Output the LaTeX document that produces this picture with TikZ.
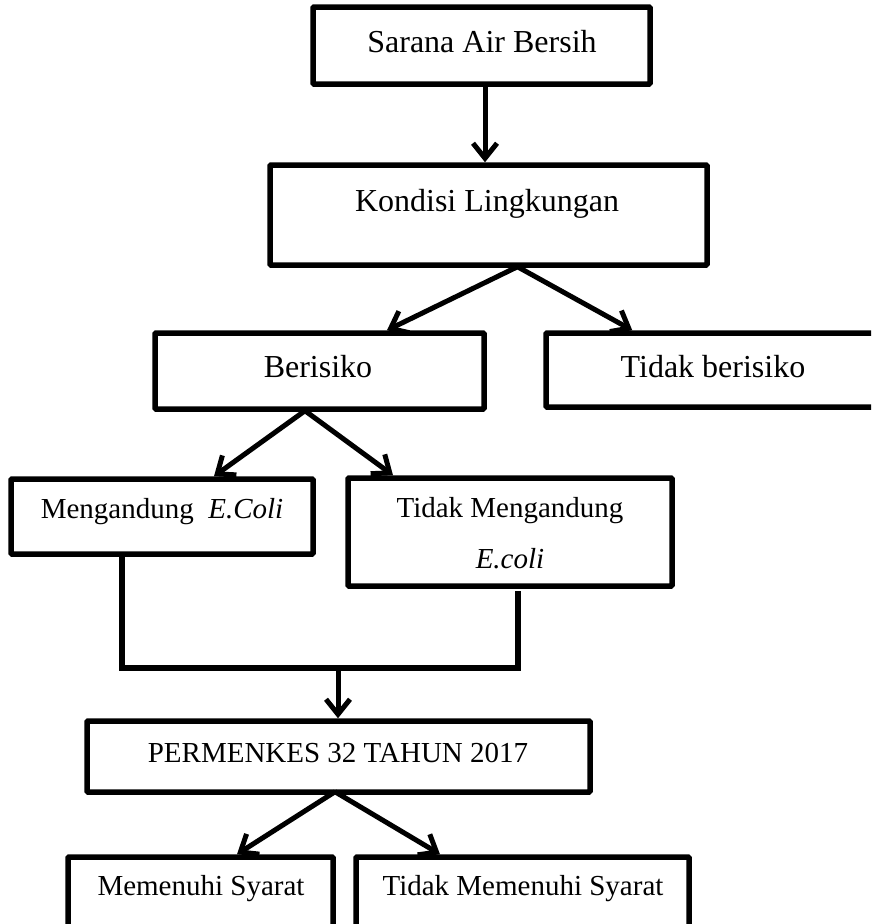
\documentclass[tikz,border=0pt]{standalone}
\usepackage{fontspec}
\setmainfont{Liberation Serif}
\usetikzlibrary{arrows.meta}
\begin{document}
\begin{tikzpicture}[x=1pt,y=-1pt,
  box/.style={draw, line width=5.5pt, inner sep=0pt, rectangle, rounded corners=1pt},
  big/.style={font=\fontsize{32}{38}\selectfont, anchor=base, inner sep=0pt},
  small/.style={font=\fontsize{29}{34}\selectfont, anchor=base, inner sep=0pt},
  arr/.style={line width=5pt, -{Straight Barb[length=15pt,width=24pt]}},
  link/.style={line width=5.5pt}]
\clip (0,0) rectangle (871,924);
\fill[white] (0,0) rectangle (871,924);
% boxes
\node[box, minimum width=337pt, minimum height=77pt] (b1) at (481.5,45.5) {};
\node[box, minimum width=437pt, minimum height=100pt] (b2) at (488.5,215) {};
\node[box, minimum width=329pt, minimum height=76pt] (b3) at (319.5,371) {};
\node[box, minimum width=354pt, minimum height=74pt] (b4) at (723,370) {};
\node[box, minimum width=302pt, minimum height=75pt] (b5) at (162,516.5) {};
\node[box, minimum width=324pt, minimum height=108pt] (b6) at (510,532) {};
\node[box, minimum width=503pt, minimum height=71pt] (b7) at (338.5,756.5) {};
\node[box, minimum width=265pt, minimum height=88pt] (b8) at (200.5,901) {};
\node[box, minimum width=333pt, minimum height=88pt] (b9) at (522.5,901) {};
% texts
\node[big] (t1) at (482,52) {Sarana Air Bersih};
\node[big] (t2) at (487,211) {Kondisi Lingkungan};
\node[big] (t3) at (318,377) {Berisiko};
\node[big] (t4) at (713,377) {Tidak berisiko};
\node[small] (t5) at (162,518) {Mengandung~~\textit{E.Coli}};
\node[small] (t6a) at (510,517) {Tidak Mengandung};
\node[small] (t6b) at (510,568) {\textit{E.coli}};
\node[small] (t7) at (338,762) {PERMENKES 32 TAHUN 2017};
\node[small] (t8) at (201,895) {Memenuhi Syarat};
\node[small] (t9) at (523,895) {Tidak Memenuhi Syarat};
% connectors
\draw[arr] ([xshift=3.5pt]b1.south) -- ([xshift=-3.5pt]b2.north);
\draw[arr] ([xshift=29pt,yshift=1pt]b2.south) -- ([xshift=67.5pt]b3.north);
\draw[arr] ([xshift=29pt,yshift=1pt]b2.south) -- ([xshift=89pt]b4.north west);
\draw[arr] ([xshift=-14.5pt,yshift=1pt]b3.south) -- ([xshift=52pt]b5.north);
\draw[arr] ([xshift=-14.5pt,yshift=1pt]b3.south) -- ([xshift=-117pt]b6.north);
\coordinate (j) at (338,668);
\draw[link] ([xshift=-40pt]b5.south) |- (j) -| ([xshift=8pt,yshift=-2pt]b6.south);
\draw[arr] (j) -- (j |- b7.north);
\draw[arr] ([xshift=-3.5pt,yshift=3pt]b7.south) -- ([xshift=36.5pt]b8.north);
\draw[arr] ([xshift=-3.5pt,yshift=3pt]b7.south) -- ([xshift=-82.5pt]b9.north);
\end{tikzpicture}
\end{document}
